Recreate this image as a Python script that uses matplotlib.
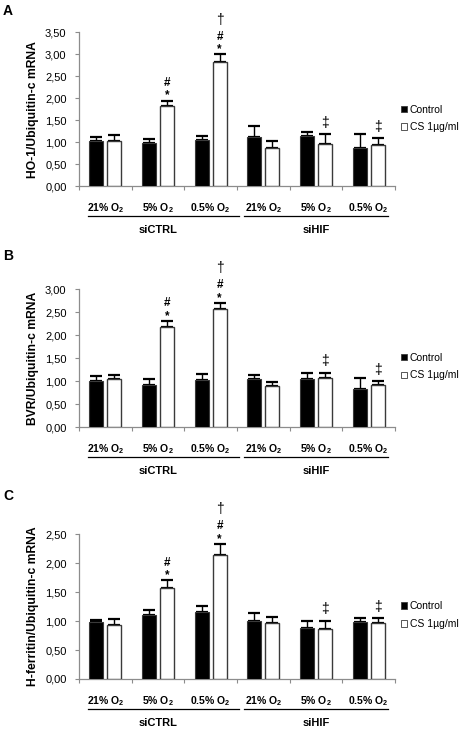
import numpy as np
import matplotlib
matplotlib.use('Agg')
import matplotlib.pyplot as plt
from matplotlib.patches import Patch

plt.rcParams['font.family'] = ['Liberation Sans', 'DejaVu Sans']
plt.rcParams['mathtext.fontset'] = 'custom'
plt.rcParams['mathtext.rm'] = 'Liberation Sans'
plt.rcParams['mathtext.bf'] = 'Liberation Sans:bold'

# categories
conditions = ['21% O$_\\mathbf{2}$', '5% O$_\\mathbf{2}$', '0.5% O$_\\mathbf{2}$'] * 2
groups = ['siCTRL', 'siHIF']
legend_labels = ['Control', 'CS 1\u00b5g/ml']

# panel A: HO-1
ho1_ctrl = [1.02, 0.99, 1.05, 1.11, 1.15, 0.87]
ho1_ctrl_err = [0.10, 0.08, 0.09, 0.26, 0.09, 0.31]
ho1_cs = [1.03, 1.82, 2.83, 0.86, 0.96, 0.94]
ho1_cs_err = [0.13, 0.13, 0.17, 0.17, 0.23, 0.16]

# panel B: BVR
bvr_ctrl = [1.01, 0.92, 1.03, 1.04, 1.06, 0.84]
bvr_ctrl_err = [0.10, 0.12, 0.12, 0.09, 0.12, 0.24]
bvr_cs = [1.04, 2.18, 2.57, 0.90, 1.08, 0.92]
bvr_cs_err = [0.09, 0.14, 0.14, 0.09, 0.11, 0.08]

# panel C: H-ferritin
hfer_ctrl = [0.99, 1.11, 1.15, 1.00, 0.88, 0.98]
hfer_ctrl_err = [0.03, 0.08, 0.11, 0.14, 0.13, 0.07]
hfer_cs = [0.93, 1.58, 2.15, 0.96, 0.86, 0.96]
hfer_cs_err = [0.11, 0.13, 0.19, 0.11, 0.15, 0.10]

# significance marks above the CS bars (bottom to top)
marks = [[], ['*', '#'], ['*', '#', '\u2020'], [], ['\u2021'], ['\u2021']]

W, H = 474, 731
fig = plt.figure(figsize=(W / 100, H / 100), dpi=100)

# letter, ylabel, data..., ymax, axes top px, axes bottom px, letter y px
panels = [
    ('A', 'HO-1/Ubiquitin-c mRNA', ho1_ctrl, ho1_ctrl_err, ho1_cs, ho1_cs_err, 3.5, 32.3, 186.3, 11),
    ('B', 'BVR/Ubiquitin-c mRNA', bvr_ctrl, bvr_ctrl_err, bvr_cs, bvr_cs_err, 3.0, 289.3, 427.3, 256.5),
    ('C', 'H-ferritin/Ubiquitin-c mRNA', hfer_ctrl, hfer_ctrl_err, hfer_cs, hfer_cs_err, 2.5, 534.3, 679.0, 496),
]

spine_col = '#8c8c8c'
edge_col = '#3a3a3a'
left, right = 79, 395

for letter, ylab, ctrl, ctrl_err, cs, cs_err, ymax, top, bottom, ly_letter in panels:
    ax = fig.add_axes([left / W, 1 - bottom / H, (right - left) / W, (bottom - top) / H])
    h_px = bottom - top
    x = np.arange(len(ctrl)) + 0.5
    xc = x - 0.17
    xs = x + 0.17
    bw = 0.27

    ax.bar(xc, ctrl, bw, color='black', edgecolor=edge_col, linewidth=0.8, zorder=3)
    ax.bar(xs, cs, bw, color='white', edgecolor=edge_col, linewidth=1.0, zorder=3)
    zeros = np.zeros(len(ctrl))
    ax.errorbar(xc, ctrl, yerr=[zeros, ctrl_err], fmt='none', ecolor='black',
                elinewidth=1.0, capsize=4.3, capthick=1.6, zorder=2)
    ax.errorbar(xs, cs, yerr=[zeros, cs_err], fmt='none', ecolor='black',
                elinewidth=1.0, capsize=4.3, capthick=1.6, zorder=2)

    # significance symbols
    offs = {'*': 3.5, '#': 12.5, '\u2020': 25.0, '\u2021': 8.0}
    for i, mk in enumerate(marks):
        cap = cs[i] + cs_err[i]
        for m in mk:
            bold = m in '*#'
            ax.annotate(m, (xs[i], cap), xytext=(0, offs[m]), textcoords='offset points',
                        ha='center', va='center', fontsize=8.5 if bold else 10,
                        fontweight='bold' if bold else 'normal', annotation_clip=False)

    ax.set_xlim(0, 6)
    ax.set_ylim(0, ymax)
    yt = np.arange(0, ymax + 0.01, 0.5)
    ax.set_yticks(yt)
    ax.set_yticklabels([f'{v:.2f}'.replace('.', ',') for v in yt], fontsize=8)
    ax.set_xticks(np.arange(0, 7))
    ax.set_xticklabels([])
    ax.tick_params(axis='both', direction='out', length=3, width=0.8, color=spine_col, pad=2)
    ax.tick_params(axis='y', pad=6)
    for s in ['top', 'right']:
        ax.spines[s].set_visible(False)
    for s in ['left', 'bottom']:
        ax.spines[s].set_color(spine_col)
        ax.spines[s].set_linewidth(0.9)

    ax.set_ylabel(ylab, fontsize=8.7, fontweight='bold')
    ax.yaxis.set_label_coords((39 - left) / (right - left), 0.5)

    # condition labels, group underlines and group names
    tr = ax.get_xaxis_transform()
    for i, c in enumerate(conditions):
        ax.text(x[i], -22 / h_px, c, transform=tr, ha='center', va='center',
                fontsize=7.5, fontweight='bold')
    ly = -30 / h_px
    ax.plot([0.165, 3.04], [ly, ly], transform=tr, color='black', lw=0.9, clip_on=False)
    ax.plot([3.13, 5.87], [ly, ly], transform=tr, color='black', lw=0.9, clip_on=False)
    ax.text(1.5, -44 / h_px, groups[0], transform=tr, ha='center', va='center',
            fontsize=8, fontweight='bold')
    ax.text(4.5, -44 / h_px, groups[1], transform=tr, ha='center', va='center',
            fontsize=8, fontweight='bold')

    handles = [Patch(facecolor='black', edgecolor=edge_col, linewidth=0.6),
               Patch(facecolor='white', edgecolor=edge_col, linewidth=0.6)]
    ax.legend(handles, legend_labels, loc='center left', bbox_to_anchor=(1.0, 0.44),
              frameon=False, fontsize=7.5, handlelength=0.6, handleheight=0.6,
              handletextpad=0.2, labelspacing=0.75, borderaxespad=0.2)

    fig.text(3 / W, 1 - ly_letter / H, letter, fontsize=10, fontweight='bold',
             ha='left', va='center')

fig.savefig('out.png', dpi=100)
